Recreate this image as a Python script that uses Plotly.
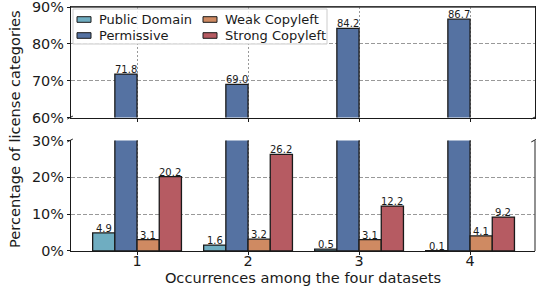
import plotly.graph_objects as go

categories = [1, 2, 3, 4]
series_names = ["Public Domain", "Permissive", "Weak Copyleft", "Strong Copyleft"]
public_domain = [4.9, 1.6, 0.5, 0.1]
permissive = [71.8, 69.0, 84.2, 86.7]
weak_copyleft = [3.1, 3.2, 3.1, 4.1]
strong_copyleft = [20.2, 26.2, 12.2, 9.2]
y_top_ticks = [60, 70, 80, 90]
y_bot_ticks = [0, 10, 20, 30]

values = [public_domain, permissive, weak_copyleft, strong_copyleft]
colors = ["#6FADC1", "#5572A2", "#CF8A62", "#B65B62"]
offsets = [-0.4, -0.2, 0.0, 0.2]
BW = 0.2

W, H = 536, 290
ML, MR, MT, MB = 71, 1, 7, 39
PW, PH = W - ML - MR, H - MT - MB


def px(x):
    return (x - ML) / PW


def py(y):
    return (H - MB - y) / PH


FONT = "DejaVu Sans"
EDGE = "#1a1a1a"
fig = go.Figure()
for i, (name, vals) in enumerate(zip(series_names, values)):
    is_perm = name == "Permissive"
    for xa, ya in (("x", "y"), ("x2", "y2")):
        fig.add_trace(go.Bar(
            x=categories, y=vals, name=name, width=BW, offset=offsets[i],
            marker=dict(color=colors[i], line=dict(color=EDGE, width=1.3)),
            xaxis=xa, yaxis=ya, showlegend=False, hoverinfo="skip",
        ))
    for c, v in zip(categories, vals):
        fig.add_annotation(
            x=c + offsets[i] + BW / 2, y=v,
            xref="x2" if is_perm else "x", yref="y2" if is_perm else "y",
            text=f"{v:.1f}", showarrow=False, yanchor="bottom", xanchor="center",
            yshift=-3, font=dict(size=10, color=EDGE, family=FONT))

xgrid = dict(showgrid=True, gridcolor="#999999", griddash="2px,2px", gridwidth=0.8)
ygrid = dict(showgrid=True, gridcolor="#999999", griddash="4px,2px", gridwidth=0.8)
common_y = dict(ticks="outside", ticklen=3, tickcolor=EDGE, tickfont=dict(size=14.4),
                showline=True, linecolor=EDGE, linewidth=1.3, zeroline=False,
                automargin=False, ticklabeloverflow="allow", **ygrid)
fig.update_layout(
    width=W, height=H,
    margin=dict(l=ML, r=MR, t=MT, b=MB, autoexpand=False),
    paper_bgcolor="white", plot_bgcolor="white",
    font=dict(family=FONT, size=13, color=EDGE),
    barmode="overlay",
    xaxis=dict(domain=[0, 1], range=[0.405, 4.585], tickvals=categories,
               ticks="outside", ticklen=3, tickcolor=EDGE, tickfont=dict(size=14.4),
               ticklabelstandoff=-6,
               showline=True, linecolor=EDGE, linewidth=1.3, mirror=False,
               title=dict(text="Occurrences among the four datasets", font=dict(size=14.6), standoff=3),
               zeroline=False, automargin=False, ticklabeloverflow="allow", **xgrid),
    yaxis=dict(domain=[0, 0.453], range=[0, 30], tickvals=y_bot_ticks,
               ticktext=[f"{t}%" for t in y_bot_ticks], **common_y),
    xaxis2=dict(domain=[0, 1], range=[0.405, 4.585], tickvals=categories, showticklabels=False,
                ticks="outside", ticklen=3, tickcolor=EDGE,
                anchor="y2", showline=True, linecolor=EDGE, linewidth=1.3, mirror=True,
                zeroline=False, automargin=False, **xgrid),
    yaxis2=dict(domain=[0.547, 1], range=[60, 90], tickvals=y_top_ticks,
                ticktext=[f"{t}%" for t in y_top_ticks], anchor="x2", mirror=True, **common_y),
    showlegend=False,
    hovermode=False,
)

# top spine
fig.add_shape(type="line", xref="paper", yref="paper", x0=0, x1=1, y0=1, y1=1,
              line=dict(color="#444444", width=1.3), layer="above")
# legend (manual, matplotlib style)
fig.add_shape(type="rect", xref="paper", yref="paper", x0=px(73), x1=px(327), y0=py(44), y1=py(9),
              line=dict(color="#cccccc", width=1), fillcolor="rgba(255,255,255,0.85)", layer="above")
leg_pos = [(77, 19.5), (77, 35.5), (203, 19.5), (203, 35.5)]
for (lx, ly), name, col in zip(leg_pos, series_names, colors):
    fig.add_shape(type="rect", xref="paper", yref="paper", x0=px(lx), x1=px(lx + 14),
                  y0=py(ly + 2.8), y1=py(ly - 2.8), fillcolor=col,
                  line=dict(color=EDGE, width=1), layer="above")
    fig.add_annotation(text=name, xref="paper", yref="paper", x=px(lx + 20), y=py(ly),
                       xanchor="left", yanchor="middle", showarrow=False,
                       font=dict(size=13, family=FONT, color=EDGE))

# right spine of bottom panel
fig.add_shape(type="line", xref="paper", yref="paper", x0=1, x1=1, y0=0, y1=0.453,
              line=dict(color="#555555", width=1.3))
# break marks
for xp in (0, 1):
    for yp in (0.453, 0.547):
        fig.add_shape(type="line", xref="paper", yref="paper",
                      x0=xp - 0.008, x1=xp + 0.004, y0=yp - 0.006, y1=yp + 0.006,
                      line=dict(color=EDGE, width=1))

fig.add_annotation(text="Percentage of license categories", xref="paper", yref="paper",
                   x=0, xshift=-57, y=0.5, textangle=-90, showarrow=False,
                   font=dict(size=14.6, family=FONT), xanchor="center", yanchor="middle")

fig.write_html("out.html", config={"displayModeBar": False},
               post_script="document.body.style.margin='0';document.body.style.padding='0';")
